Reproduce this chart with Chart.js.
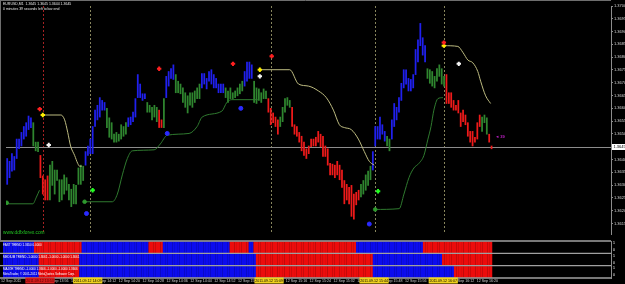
<!DOCTYPE html>
<html lang="en">
<head>
<meta charset="UTF-8">
<title>EURUSD,M1</title>
<script src="https://cdn.jsdelivr.net/npm/chart.js@4.4.0/dist/chart.umd.min.js"></script>
<style>
    body { margin: 0; background: #000; width: 625px; height: 284px; overflow: hidden; position: relative; }
    canvas { position: absolute; left: 0; }
    #main { top: 0; }
    #trend { top: 240px; }
</style>
</head>
<body>
<canvas id="main" width="625" height="240"></canvas>
<canvas id="trend" width="625" height="44"></canvas>
<script>
// ---- price bars (M1), high / low per bar ----
const barHigh = [
    1.36404, 1.36393, 1.36423, 1.36412, 1.36480, 1.36480, 1.36506, 1.36529, 1.36544, 1.36570,
    1.36563, 1.36544, 1.36468, 1.36468, 1.36416, 1.36336, 1.36321, 1.36336, 1.36378, 1.36393,
    1.36359, 1.36359, 1.36321, 1.36321, 1.36340, 1.36329, 1.36303, 1.36284, 1.36303, 1.36299,
    1.36367, 1.36378, 1.36374, 1.36431, 1.36453, 1.36480, 1.36529, 1.36593, 1.36612, 1.36642,
    1.36631, 1.36623, 1.36600, 1.36563, 1.36544, 1.36499, 1.36506, 1.36499, 1.36536, 1.36529,
    1.36544, 1.36563, 1.36566, 1.36585, 1.36638, 1.36732, 1.36695, 1.36657, 1.36657, 1.36623,
    1.36612, 1.36604, 1.36612, 1.36604, 1.36593, 1.36555, 1.36638, 1.36725, 1.36744, 1.36755,
    1.36770, 1.36732, 1.36706, 1.36695, 1.36680, 1.36661, 1.36649, 1.36661, 1.36661, 1.36668,
    1.36680, 1.36695, 1.36736, 1.36736, 1.36717, 1.36744, 1.36751, 1.36732, 1.36717, 1.36695,
    1.36695, 1.36695, 1.36680, 1.36668, 1.36680, 1.36661, 1.36668, 1.36680, 1.36695, 1.36706,
    1.36744, 1.36781, 1.36781, 1.36770, 1.36706, 1.36680, 1.36676, 1.36661, 1.36676, 1.36668,
    1.36638, 1.36600, 1.36582, 1.36566, 1.36555, 1.36566, 1.36604, 1.36638, 1.36642, 1.36631,
    1.36604, 1.36536, 1.36529, 1.36506, 1.36491, 1.36468, 1.36442, 1.36453, 1.36480, 1.36480,
    1.36487, 1.36510, 1.36499, 1.36491, 1.36453, 1.36442, 1.36385, 1.36382, 1.36378, 1.36393,
    1.36378, 1.36359, 1.36318, 1.36303, 1.36291, 1.36299, 1.36265, 1.36272, 1.36280, 1.36303,
    1.36318, 1.36340, 1.36355, 1.36374, 1.36431, 1.36529, 1.36529, 1.36566, 1.36536, 1.36510,
    1.36491, 1.36480, 1.36555, 1.36619, 1.36604, 1.36642,
    1.36698, 1.36751, 1.36751, 1.36717, 1.36713, 1.36732, 1.36830, 1.36868, 1.36932, 1.36876,
    1.36845, 1.36755, 1.36751, 1.36744, 1.36725, 1.36755, 1.36770, 1.36755, 1.36725, 1.36732,
    1.36661, 1.36661, 1.36631, 1.36612, 1.36631, 1.36582, 1.36593, 1.36574, 1.36544, 1.36510,
    1.36510, 1.36487, 1.36544, 1.36574, 1.36566, 1.36574, 1.36563, 1.36499, 1.36453
];
const barLow = [
    1.36303, 1.36329, 1.36355, 1.36359, 1.36404, 1.36442, 1.36453, 1.36480, 1.36491, 1.36517,
    1.36525, 1.36453, 1.36434, 1.36431, 1.36329, 1.36265, 1.36242, 1.36242, 1.36242, 1.36299,
    1.36265, 1.36318, 1.36235, 1.36242, 1.36265, 1.36280, 1.36242, 1.36216, 1.36227, 1.36227,
    1.36303, 1.36303, 1.36318, 1.36378, 1.36416, 1.36423, 1.36423, 1.36529, 1.36555, 1.36566,
    1.36593, 1.36593, 1.36525, 1.36487, 1.36480, 1.36468, 1.36468, 1.36472, 1.36480, 1.36491,
    1.36499, 1.36529, 1.36536, 1.36548, 1.36566, 1.36642, 1.36642, 1.36631, 1.36638, 1.36585,
    1.36585, 1.36555, 1.36566, 1.36548, 1.36525, 1.36525, 1.36525, 1.36642, 1.36687, 1.36717,
    1.36713, 1.36661, 1.36661, 1.36657, 1.36623, 1.36604, 1.36582, 1.36612, 1.36604, 1.36623,
    1.36638, 1.36638, 1.36680, 1.36695, 1.36676, 1.36706, 1.36695, 1.36680, 1.36680, 1.36661,
    1.36661, 1.36661, 1.36642, 1.36623, 1.36638, 1.36638, 1.36642, 1.36649, 1.36657, 1.36668,
    1.36687, 1.36706, 1.36717, 1.36717, 1.36623, 1.36619, 1.36631, 1.36623, 1.36638, 1.36638,
    1.36585, 1.36536, 1.36544, 1.36529, 1.36499, 1.36529, 1.36548, 1.36585, 1.36612, 1.36604,
    1.36529, 1.36499, 1.36491, 1.36468, 1.36434, 1.36416, 1.36404, 1.36423, 1.36450, 1.36453,
    1.36453, 1.36468, 1.36450, 1.36412, 1.36412, 1.36378, 1.36340, 1.36340, 1.36329, 1.36340,
    1.36321, 1.36291, 1.36227, 1.36242, 1.36227, 1.36178, 1.36167, 1.36223, 1.36242, 1.36254,
    1.36265, 1.36280, 1.36299, 1.36321, 1.36359, 1.36453, 1.36480, 1.36480, 1.36499, 1.36472,
    1.36453, 1.36434, 1.36480, 1.36529, 1.36555, 1.36585,
    1.36631, 1.36680, 1.36695, 1.36668, 1.36668, 1.36680, 1.36732, 1.36781, 1.36845, 1.36808,
    1.36781, 1.36717, 1.36698, 1.36687, 1.36680, 1.36706, 1.36725, 1.36695, 1.36687, 1.36619,
    1.36619, 1.36604, 1.36593, 1.36593, 1.36582, 1.36529, 1.36548, 1.36536, 1.36491, 1.36468,
    1.36453, 1.36468, 1.36480, 1.36529, 1.36510, 1.36544, 1.36499, 1.36468, 1.36442
];
// bar colour state as runs: b = up (blue), g = neutral (green), r = down (red)
const barKindRuns = [
    ['b', 11], ['g', 3], ['r', 4], ['g', 15], ['b', 9], ['g', 9], ['b', 8], ['g', 5], ['r', 2], ['g', 1],
    ['b', 4], ['g', 11], ['b', 10], ['g', 8], ['b', 4], ['g', 6], ['r', 5], ['g', 5], ['r', 29], ['g', 5],
    ['b', 6], ['g', 2], ['b', 15], ['g', 8], ['r', 15], ['g', 3], ['r', 2]
];

// ---- trailing stop lines [barIndex, price] ----
const upperStop1 = [[15, 1.36574], [22.6, 1.36574], [24.2, 1.36555], [25.5, 1.36506], [26.7, 1.36453], [28.4, 1.36416], [29.7, 1.36385], [30.5, 1.36374], [31.4, 1.36374]];
const upperStop2 = [[106.4, 1.36751], [119, 1.36751], [122.7, 1.36695], [126.9, 1.36687], [131.1, 1.36668], [134.4, 1.36642], [137.4, 1.36593], [139.9, 1.36536], [142, 1.36525], [144.9, 1.36517], [147.9, 1.36480], [150.4, 1.36431], [152.5, 1.36393], [154.6, 1.36378]];
const upperStop3 = [[183.9, 1.36845], [189.8, 1.36842], [191.9, 1.36819], [194, 1.36789], [196.1, 1.36778], [198.2, 1.36744], [199.4, 1.36706], [201.5, 1.36649], [203.6, 1.36619]];
const lowerStop1 = [[-0.5, 1.36227], [10.8, 1.36227], [12.3, 1.36253], [13.6, 1.36280]];
const lowerStop2 = [[32.6, 1.36235], [44.3, 1.36235], [46.4, 1.36265], [48.5, 1.36340], [50.6, 1.36404], [52.7, 1.36434], [61.9, 1.36438], [64.5, 1.36461], [67.4, 1.36495], [76.6, 1.36502], [80.0, 1.36529], [82.1, 1.36566], [90.4, 1.36589], [92.5, 1.36623], [94.6, 1.36634], [105.5, 1.36634]];
const lowerStop3 = [[154.6, 1.36205], [165.1, 1.36208], [167.1, 1.36265], [169.2, 1.36329], [171.3, 1.36367], [173.4, 1.36385], [175.5, 1.36416], [177.2, 1.36480], [178.5, 1.36529], [179.7, 1.36593], [181.4, 1.36638], [183.5, 1.36642]];

// ---- signal arrows [barIndex, price] ----
const sellArrows = [[13.7, 1.36597], [64, 1.36755], [95.1, 1.36774], [111.4, 1.36804], [183.9, 1.36857]];
const stopArrows = [[15, 1.36574], [106.4, 1.36751], [183.9, 1.36845]];
const exitArrows = [[17.5, 1.36457], [106.4, 1.36725], [190.2, 1.36774]];
const buyArrows = [[36, 1.36280], [156.2, 1.36276]];
const stopDots = [[-0.2, 1.36231], [32.6, 1.36235], [155, 1.36205]];
const blueDots = [[33.4, 1.36189], [67.4, 1.36502], [98.4, 1.36600], [152.5, 1.36148]];

// ---- price axis ----
const priceTicks = [1.3700, 1.3695, 1.3690, 1.3685, 1.3680, 1.3675, 1.3670, 1.3665, 1.3660, 1.3655,
    1.3650, 1.3640, 1.3635, 1.3630, 1.3625, 1.3620, 1.3615];
const bidPrice = 1.3645;

// ---- vertical time markers ----
const markIdx = [15, 35, 111, 155, 184];
const markText = ['2011.09.12 13:53', '2011.09.12 14:09', '2011.09.12 15:09', '2011.09.12 15:44', '2011.09.12 16:07'];
const markKind = ['r', 'y', 'y', 'y', 'y'];

// ---- time axis ----
const timeIdx = [0, 18, 28, 38, 48, 58, 68, 78, 88, 98, 108, 118, 128, 138, 148, 158, 168, 178, 188, 198];
const timeText = ['12 Sep 2011', '12 Sep 13:56', '12 Sep 14:04', '12 Sep 14:12', '12 Sep 14:20', '12 Sep 14:28',
    '12 Sep 14:36', '12 Sep 14:44', '12 Sep 14:52', '12 Sep 15:00', '12 Sep 15:08', '12 Sep 15:16', '12 Sep 15:24',
    '12 Sep 15:32', '12 Sep 15:40', '12 Sep 15:48', '12 Sep 15:56', '12 Sep 16:04', '12 Sep 16:12', '12 Sep 16:20'];

// ---- trend panels: runs of [direction, bars] ----
const fastRuns = [[1, 13], [-1, 20], [1, 28], [-1, 6], [1, 28], [-1, 8], [1, 2], [-1, 43], [1, 28], [-1, 29]];
const mediumRuns = [[1, 15], [-1, 17], [1, 74], [-1, 49], [1, 29], [-1, 21]];
const majorRuns = [[1, 15], [-1, 17], [1, 74], [-1, 49], [1, 34], [-1, 16]];
const panelLabels = ['FAST TREND 1.3650 0.0000',
    'MEDIUM TREND -1.0000 1.3661 -1.0000 -1.0000 1.3661',
    'MAJOR TREND -1.0000 1.3666 -1.0000 -1.0000 1.3666'];

const X_MIN = -0.5, X_MAX = 254.3;
const FONT = '"Liberation Sans", Arial, sans-serif';
const kindColor = { b: '#2020ee', g: '#2f862f', r: '#ee1a1a' };

function expandRuns(runs) {
    const out = [];
    runs.forEach(([v, n]) => { for (let i = 0; i < n; i++) out.push(v); });
    return out;
}
const toPts = arr => arr.map(([x, y]) => ({ x, y }));

const barKind = expandRuns(barKindRuns);

function stopLine(pts, color) {
    return { type: 'line', data: toPts(pts), borderColor: color, borderWidth: 1, pointRadius: 0,
        fill: false, cubicInterpolationMode: 'monotone', order: 1 };
}
function arrows(pts, color, style, r, w) {
    return { type: 'scatter', data: toPts(pts), pointStyle: style, pointRadius: r,
        borderColor: color, backgroundColor: color, borderWidth: w, order: 0 };
}

const mainOverlay = {
    id: 'mainOverlay',
    beforeDatasetsDraw(chart) {
        const { ctx, chartArea: a, scales: { x, y } } = chart;
        ctx.save();
        ctx.lineWidth = 1;
        markIdx.forEach((m, k) => {
            const px = Math.round(x.getPixelForValue(m)) + 0.5;
            ctx.strokeStyle = markKind[k] === 'r' ? '#a52222' : '#86845c';
            ctx.setLineDash([2, 2]);
            ctx.beginPath(); ctx.moveTo(px, a.top); ctx.lineTo(px, a.bottom); ctx.stroke();
        });
        ctx.setLineDash([]);
        const by = Math.round(y.getPixelForValue(bidPrice)) + 0.5;
        ctx.strokeStyle = '#8c8c8c';
        ctx.beginPath(); ctx.moveTo(a.left, by); ctx.lineTo(a.right, by); ctx.stroke();
        ctx.restore();
    },
    afterDraw(chart) {
        const { ctx, chartArea: a, scales: { x, y } } = chart;
        ctx.save();
        // frame
        ctx.strokeStyle = '#6e6e6e';
        ctx.beginPath(); ctx.moveTo(0.5, 0); ctx.lineTo(0.5, 240); ctx.moveTo(0, 0.5); ctx.lineTo(a.right, 0.5); ctx.stroke();
        // header
        ctx.fillStyle = '#e8e8e8';
        ctx.font = '3.5px ' + FONT;
        ctx.textBaseline = 'middle';
        ctx.fillText('EURUSD,M1  1.3645 1.3645 1.3644 1.3645', 3, 4.5);
        ctx.fillText('0 minutes 39 seconds left to bar end', 3, 9.5);
        // site
        ctx.fillStyle = '#22c422';
        ctx.font = '4.8px ' + FONT;
        ctx.fillText('www.ddfxforex.com', 3, 233);
        // bar timer
        ctx.fillStyle = '#c020c8';
        ctx.font = 'bold 4px ' + FONT;
        ctx.fillText('\u25c4 39', x.getPixelForValue(205.5), y.getPixelForValue(1.36490));
        // bid label on axis
        const by = Math.round(y.getPixelForValue(bidPrice));
        ctx.fillStyle = '#ffffff';
        ctx.fillRect(a.right + 1, by - 3, 14, 6);
        ctx.fillStyle = '#000000';
        ctx.font = '4px ' + FONT;
        ctx.fillText(bidPrice.toFixed(4), a.right + 2.5, by + 0.3);
        ctx.restore();
    }
};

new Chart(document.getElementById('main'), {
    type: 'bar',
    data: {
        datasets: [
            {
                type: 'bar',
                data: barHigh.map((h, i) => ({ x: i, y: [barLow[i], h] })),
                backgroundColor: barKind.map(k => kindColor[k]),
                barThickness: 1.1,
                grouped: false,
                order: 2
            },
            stopLine(upperStop1, '#bdbb80'),
            stopLine(upperStop2, '#bdbb80'),
            stopLine(upperStop3, '#bdbb80'),
            stopLine(lowerStop1, '#2f7a2f'),
            stopLine(lowerStop2, '#2f7a2f'),
            stopLine(lowerStop3, '#2f7a2f'),
            arrows(sellArrows, '#ff2020', 'cross', 2.2, 2),
            arrows(stopArrows, '#ffee00', 'cross', 2.2, 2),
            arrows(exitArrows, '#f4f4f4', 'cross', 2.2, 2),
            arrows(buyArrows, '#22ff22', 'cross', 2.2, 2),
            arrows(stopDots, '#2f9a2f', 'circle', 1.8, 1),
            arrows(blueDots, '#2a2aff', 'circle', 2, 1)
        ]
    },
    options: {
        responsive: false,
        animation: false,
        devicePixelRatio: 1,
        layout: { padding: { left: 3, top: 2, right: 0, bottom: 2 } },
        plugins: { legend: { display: false }, tooltip: { enabled: false } },
        scales: {
            x: { type: 'linear', min: X_MIN, max: X_MAX, offset: false, display: false },
            y: {
                type: 'linear',
                position: 'right',
                min: 1.36109,
                max: 1.3700,
                afterFit: s => { s.width = 14; },
                afterBuildTicks: s => { s.ticks = priceTicks.map(v => ({ value: v })); },
                grid: { display: true, drawOnChartArea: false, drawTicks: true, tickLength: 2, color: '#8c8c8c' },
                border: { display: true, color: '#8c8c8c' },
                ticks: { color: '#d4d4d4', font: { size: 4, family: FONT }, padding: 1, callback: v => v.toFixed(4) }
            }
        }
    },
    plugins: [mainOverlay]
});

// ---- trend panels + time axis ----
const panelRuns = [fastRuns, mediumRuns, majorRuns];

const trendOverlay = {
    id: 'trendOverlay',
    afterDraw(chart) {
        const { ctx, chartArea: a, scales: { x, y } } = chart;
        ctx.save();
        // separators
        ctx.strokeStyle = '#a0a0a0';
        ctx.lineWidth = 1.4;
        [0, 1, 2, 3].forEach(v => {
            const py = y.getPixelForValue(v);
            ctx.beginPath(); ctx.moveTo(0, py); ctx.lineTo(a.right, py); ctx.stroke();
        });
        // panel labels
        ctx.fillStyle = '#ffffff';
        ctx.font = '3px ' + FONT;
        ctx.textBaseline = 'middle';
        panelLabels.forEach((t, i) => ctx.fillText(t, 3, y.getPixelForValue(i + 0.3)));
        ctx.fillText('MetaTrader, \u00a9 2001-2011 MetaQuotes Software Corp.', 3, y.getPixelForValue(2.7));
        // right scale marks
        ctx.font = '3.5px ' + FONT;
        [0, 1, 2].forEach(i => {
            ctx.fillText('1', a.right + 2, y.getPixelForValue(i + 0.2));
            ctx.fillText('0', a.right + 2, y.getPixelForValue(i + 0.75));
        });
        // time labels
        ctx.fillStyle = '#cfcfcf';
        ctx.font = '3.6px ' + FONT;
        const ty = 40.5;
        timeIdx.forEach((t, i) => {
            const px = i === 0 ? 1 : x.getPixelForValue(t);
            ctx.fillText(timeText[i], px, ty);
        });
        // highlighted times of the vertical markers
        markIdx.forEach((m, k) => {
            const px = x.getPixelForValue(m);
            const w = ctx.measureText(markText[k]).width + 1.5;
            ctx.fillStyle = markKind[k] === 'r' ? '#d41c1c' : '#f0d21e';
            ctx.fillRect(px - w / 2, ty - 3, w, 6);
            ctx.fillStyle = markKind[k] === 'r' ? '#5a0000' : '#000000';
            ctx.fillText(markText[k], px - w / 2 + 0.75, ty);
        });
        ctx.restore();
    }
};

new Chart(document.getElementById('trend'), {
    type: 'bar',
    data: {
        datasets: panelRuns.map((runs, p) => {
            const dirs = expandRuns(runs);
            return {
                data: dirs.map((d, i) => ({ x: i, y: [p + 0.06, p + 0.96] })),
                backgroundColor: dirs.map(d => d > 0 ? '#0c0cee' : '#ec0c0c'),
                barThickness: 1.9,
                grouped: false
            };
        })
    },
    options: {
        responsive: false,
        animation: false,
        devicePixelRatio: 1,
        layout: { padding: { left: 3, top: 1, right: 0, bottom: 6 } },
        plugins: { legend: { display: false }, tooltip: { enabled: false } },
        scales: {
            x: { type: 'linear', min: X_MIN, max: X_MAX, offset: false, display: false },
            y: {
                type: 'linear',
                position: 'right',
                min: 0,
                max: 3,
                reverse: true,
                afterFit: s => { s.width = 14; },
                grid: { display: false },
                border: { display: true, color: '#8c8c8c' },
                ticks: { display: false }
            }
        }
    },
    plugins: [trendOverlay]
});
</script>
</body>
</html>
